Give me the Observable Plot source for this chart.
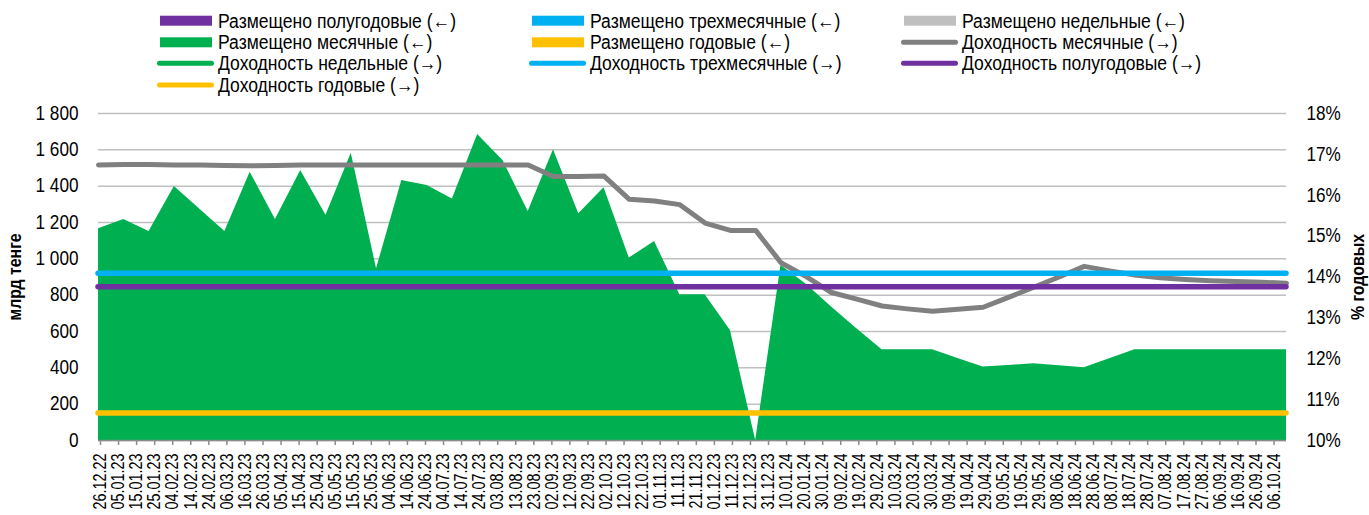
<!DOCTYPE html>
<html><head><meta charset="utf-8">
<script src="https://cdn.jsdelivr.net/npm/d3@7"></script>
<script src="https://cdn.jsdelivr.net/npm/@observablehq/plot@0.6"></script>
<style>
html,body{margin:0;padding:0;background:#fff;}
#wrap{width:1369px;height:515px;overflow:hidden;font-family:"Liberation Sans",Arial,sans-serif;}
#wrap svg{display:block;}
</style></head><body><div id="wrap"></div>
<script>
// ---- data ----
const dates = ["26.12.22","09.01.23","23.01.23","06.02.23","20.02.23","06.03.23","20.03.23","03.04.23","17.04.23","01.05.23","15.05.23","29.05.23","12.06.23","26.06.23","10.07.23","24.07.23","07.08.23","21.08.23","04.09.23","18.09.23","02.10.23","16.10.23","30.10.23","13.11.23","27.11.23","11.12.23","25.12.23","08.01.24","22.01.24","05.02.24","19.02.24","04.03.24","18.03.24","01.04.24","15.04.24","29.04.24","13.05.24","27.05.24","10.06.24","24.06.24","08.07.24","22.07.24","05.08.24","19.08.24","02.09.24","16.09.24","30.09.24","14.10.24"];
// Размещено месячные, млрд тенге (left axis)
const placedMonthly = [1165,1216,1150,1398,1275,1150,1477,1216,1486,1240,1581,945,1431,1403,1330,1684,1541,1260,1601,1248,1391,1004,1095,802,802,605,0,963,860,735,615,499,499,499,451,404,413,422,411,400,450,499,499,499,499,499,499,499];
// Доходность месячные, % годовых (right axis)
const yieldMonthly = [16.74,16.75,16.75,16.74,16.74,16.73,16.72,16.73,16.74,16.74,16.74,16.74,16.74,16.74,16.74,16.74,16.74,16.74,16.46,16.46,16.47,15.90,15.86,15.77,15.32,15.14,15.14,14.35,14.01,13.62,13.46,13.29,13.22,13.16,13.21,13.26,13.50,13.75,14.00,14.26,14.15,14.05,13.98,13.94,13.91,13.89,13.87,13.85];
// constant yield series (right axis)
const flatSeries = ["Доходность трехмесячные (→)","Доходность полугодовые (→)","Доходность годовые (→)"];
const flatValues = [14.09, 13.76, 10.67];
const flatColors = ["#00B0F0","#7030A0","#FFC000"];

const leftTickValues = [0,200,400,600,800,1000,1200,1400,1600,1800];
const leftTickLabels = ["0","200","400","600","800","1 000","1 200","1 400","1 600","1 800"];
const rightTickLabels = ["10%","11%","12%","13%","14%","15%","16%","17%","18%"];
const xTickLabels = ["26.12.22","05.01.23","15.01.23","25.01.23","04.02.23","14.02.23","24.02.23","06.03.23","16.03.23","26.03.23","05.04.23","15.04.23","25.04.23","05.05.23","15.05.23","25.05.23","04.06.23","14.06.23","24.06.23","04.07.23","14.07.23","24.07.23","03.08.23","13.08.23","23.08.23","02.09.23","12.09.23","22.09.23","02.10.23","12.10.23","22.10.23","01.11.23","11.11.23","21.11.23","01.12.23","11.12.23","21.12.23","31.12.23","10.01.24","20.01.24","30.01.24","09.02.24","19.02.24","29.02.24","10.03.24","20.03.24","30.03.24","09.04.24","19.04.24","29.04.24","09.05.24","19.05.24","29.05.24","08.06.24","18.06.24","28.06.24","08.07.24","18.07.24","28.07.24","07.08.24","17.08.24","27.08.24","06.09.24","16.09.24","26.09.24","06.10.24"];

const legendLabels = ["Размещено полугодовые (←)","Размещено трехмесячные (←)","Размещено недельные (←)","Размещено месячные (←)","Размещено годовые (←)","Доходность месячные (→)","Доходность недельные (→)","Доходность трехмесячные (→)","Доходность полугодовые (→)","Доходность годовые (→)"];
const legendColors = ["#7030A0","#00B0F0","#BFBFBF","#00B050","#FFC000","#808080","#00B050","#00B0F0","#7030A0","#FFC000"];
const legendKinds = ["bar","bar","bar","bar","bar","line","line","line","line","line"];

// ---- build ----
const parse = d3.utcParse("%d.%m.%y");
const fmt = d3.utcFormat("%d.%m.%y");
const rows = dates.map((d,i)=>({date: parse(d), placed: placedMonthly[i], yld: yieldMonthly[i]}));
const xStart = rows[0].date, xEnd = rows[rows.length-1].date;
const pct = p => (p - 10) * 225; // right axis 10..18% drawn on left 0..1800 grid
const xTicks = xTickLabels.map(parse);
const FONT = '"Liberation Sans", Arial, sans-serif';

const wrap = d3.select("#wrap");

// legend
const leg = wrap.append("svg").attr("width",1369).attr("height",100).attr("font-family",FONT);
const colX = [218,590,962], rowY = [20.7,42.3,63.3,85];
legendLabels.forEach((lab,i)=>{
  const tx = colX[i%3], cy = rowY[Math.floor(i/3)];
  if (legendKinds[i]==="bar") {
    leg.append("rect").attr("x",tx-58).attr("y",cy-5).attr("width",52).attr("height",10).attr("fill",legendColors[i]);
  } else {
    leg.append("line").attr("x1",tx-58.5).attr("x2",tx-6.5).attr("y1",cy).attr("y2",cy)
      .attr("stroke",legendColors[i]).attr("stroke-width",5).attr("stroke-linecap","round");
  }
  leg.append("text").attr("class","legtxt").attr("x",tx).attr("y",cy+7).attr("font-size",19.5).attr("fill","#000").text(lab);
});

const chart = Plot.plot({
  width: 1369, height: 415,
  marginLeft: 98, marginRight: 83, marginTop: 13, marginBottom: 75,
  x: {type: "utc", domain: [xStart, xEnd]},
  y: {domain: [0, 1800]},
  style: {fontFamily: FONT, fontSize: "19.5px", color: "#000", background: "#fff"},
  marks: [
    Plot.gridY(leftTickValues, {stroke: "#c0c0c0", strokeOpacity: 1, strokeWidth: 1.5}),
    Plot.areaY(rows, {x: "date", y: "placed", fill: "#00B050", curve: "linear"}),
    Plot.ruleY([0], {stroke: "#8c8c8c", strokeWidth: 1.5}),
    Plot.line(rows, {x: "date", y: d => pct(d.yld), stroke: "#808080", strokeWidth: 5, strokeLinejoin: "round", strokeLinecap: "round"}),
    ...flatValues.map((v,i) => Plot.ruleY([v], {y: d => pct(d), x1: xStart, x2: xEnd, stroke: flatColors[i], strokeWidth: 5.5, strokeLinecap: "round"})),
    Plot.axisY(leftTickValues, {anchor: "left", tickSize: 0, tickPadding: 20, tickFormat: d => leftTickLabels[leftTickValues.indexOf(d)], label: null}),
    Plot.axisY(leftTickValues.slice(0,9).map((d,i)=>i*225), {anchor: "right", tickSize: 0, tickPadding: 20, tickFormat: d => rightTickLabels[Math.round(d/225)], label: null}),
    Plot.axisX(xTicks, {tickRotate: -90, tickSize: 5, tickPadding: 8, stroke: "#8c8c8c", strokeWidth: 1.5, fill: "#000", fontSize: 18, dx: 2, tickFormat: d => fmt(d), label: null})
  ]
});
wrap.node().appendChild(chart);
const svg = d3.select(chart);
// axis titles
svg.append("text").attr("transform","translate(21,177) rotate(-90)").attr("text-anchor","middle")
  .attr("font-weight","bold").attr("font-size",18).attr("font-family",FONT).attr("class","ttl").text("млрд тенге");
svg.append("text").attr("transform","translate(1364,177) rotate(-90)").attr("text-anchor","middle")
  .attr("font-weight","bold").attr("font-size",18).attr("font-family",FONT).attr("class","ttl").text("% годовых");

function squeeze(sel, ratio){
  sel.each(function(){
    const L = this.getComputedTextLength();
    if (L > 0) { this.setAttribute("textLength", (L*ratio).toFixed(1)); this.setAttribute("lengthAdjust","spacingAndGlyphs"); }
  });
}
squeeze(leg.selectAll("text.legtxt"), 0.9);
squeeze(svg.selectAll('g[aria-label="y-axis tick label"] text'), 0.88);
squeeze(svg.selectAll('g[aria-label="x-axis tick label"] text'), 0.8);
squeeze(svg.selectAll("text.ttl"), 0.88);
</script></body></html>
